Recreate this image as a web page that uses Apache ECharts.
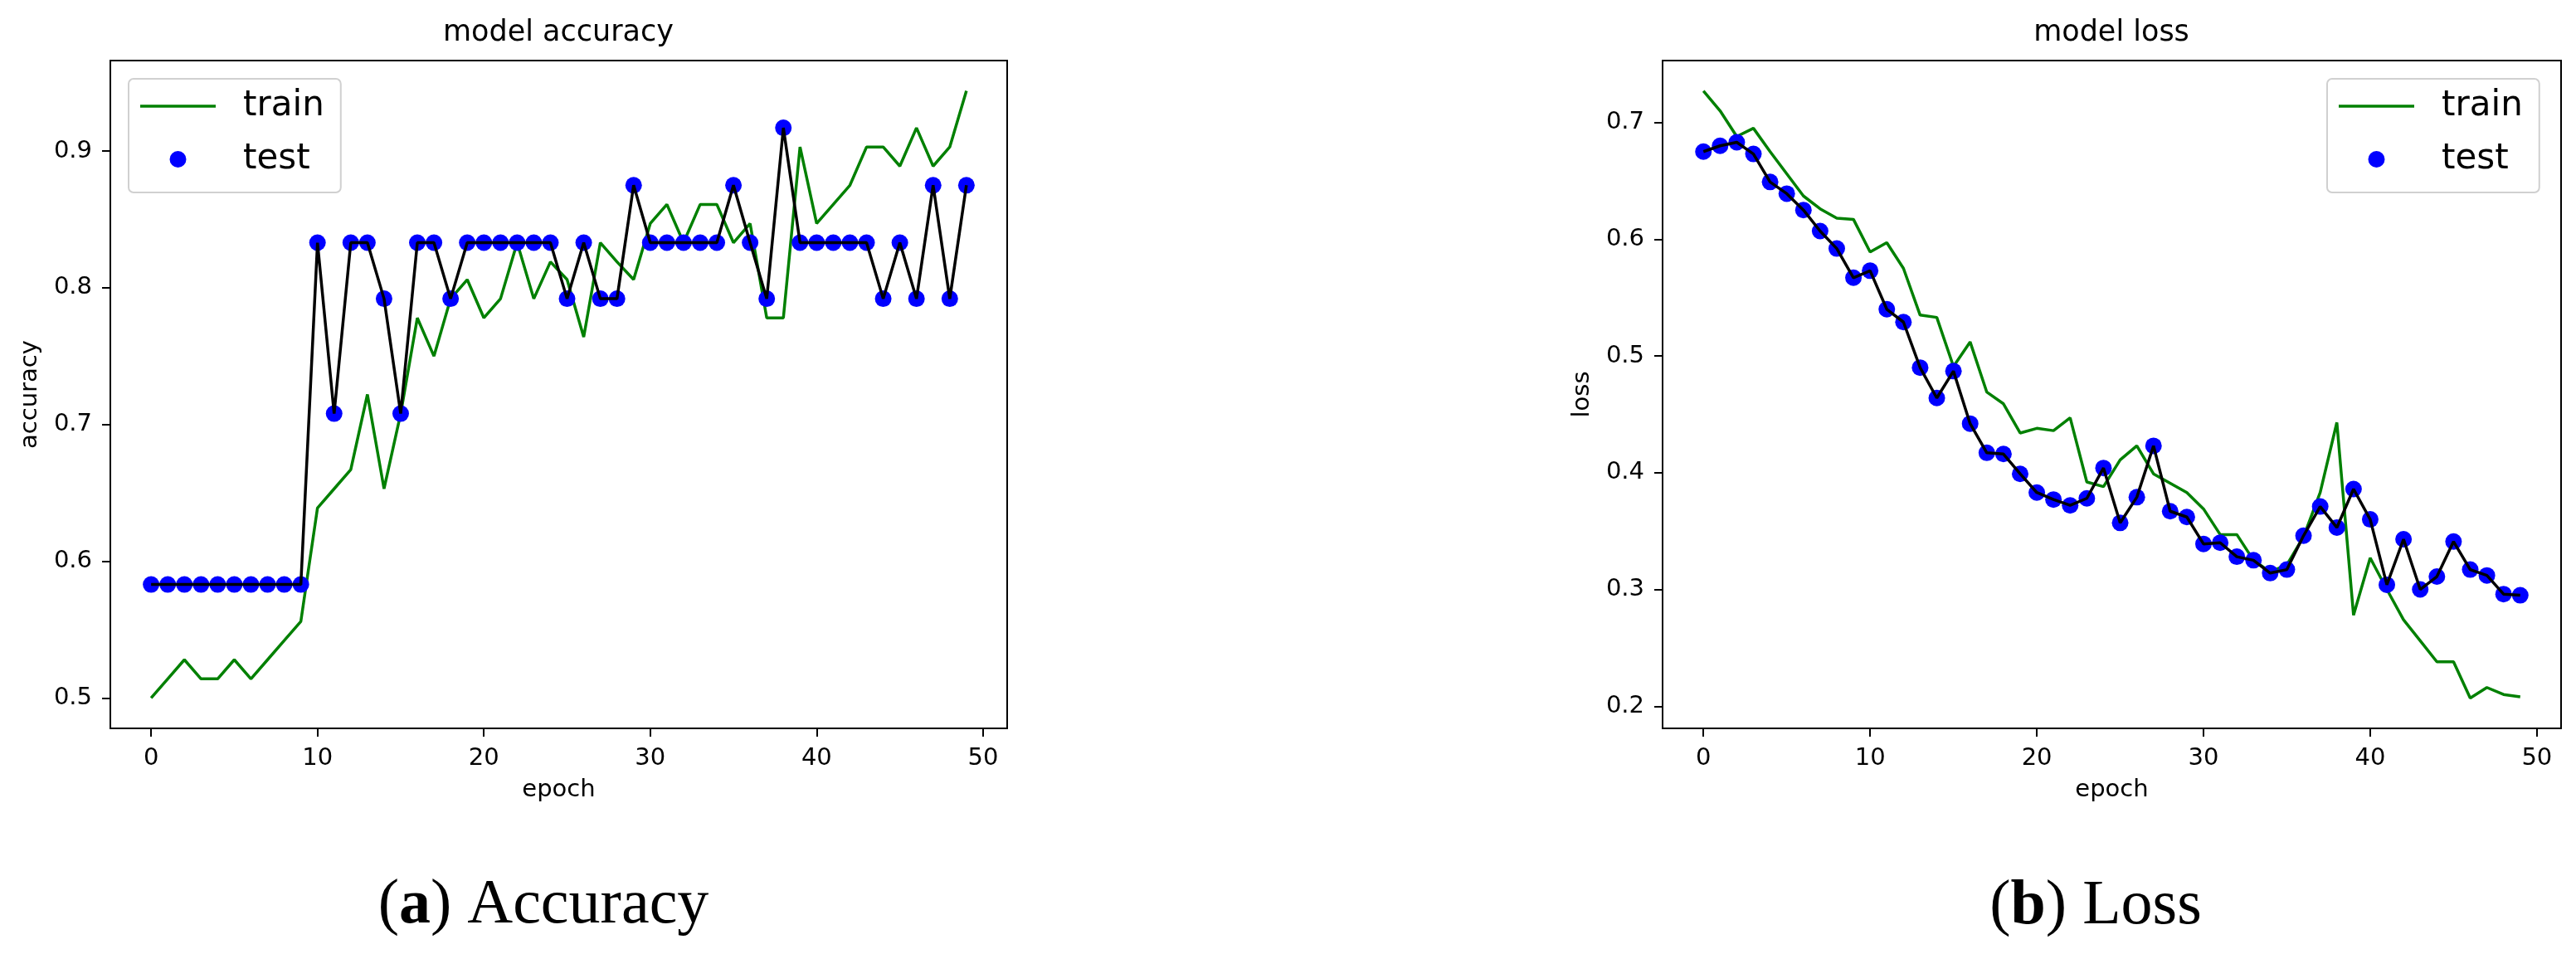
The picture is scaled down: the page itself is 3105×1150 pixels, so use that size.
<!DOCTYPE html>
<html>
<head>
<meta charset="utf-8">
<script src="https://cdn.jsdelivr.net/npm/echarts@6/dist/echarts.min.js"></script>
<style>
  html, body { margin: 0; padding: 0; background: #fff; }
  #chart { width: 3105px; height: 1150px; }
</style>
</head>
<body>
<div id="chart"></div>
<script>
// tick labels
var xTicks = [0, 10, 20, 30, 40, 50];
var accTicks = [0.5, 0.6, 0.7, 0.8, 0.9];
var lossTicks = [0.2, 0.3, 0.4, 0.5, 0.6, 0.7];

// accuracy per epoch
var accTrain = [0.500, 0.514, 0.528, 0.514, 0.514, 0.528, 0.514, 0.528, 0.542, 0.556,
                0.639, 0.653, 0.667, 0.722, 0.653, 0.708, 0.778, 0.750, 0.792, 0.806,
                0.778, 0.792, 0.833, 0.792, 0.819, 0.806, 0.764, 0.833, 0.819, 0.806,
                0.847, 0.861, 0.833, 0.861, 0.861, 0.833, 0.847, 0.778, 0.778, 0.903,
                0.847, 0.861, 0.875, 0.903, 0.903, 0.889, 0.917, 0.889, 0.903, 0.944];
var accTest = [0.583, 0.583, 0.583, 0.583, 0.583, 0.583, 0.583, 0.583, 0.583, 0.583,
               0.833, 0.708, 0.833, 0.833, 0.792, 0.708, 0.833, 0.833, 0.792, 0.833,
               0.833, 0.833, 0.833, 0.833, 0.833, 0.792, 0.833, 0.792, 0.792, 0.875,
               0.833, 0.833, 0.833, 0.833, 0.833, 0.875, 0.833, 0.792, 0.917, 0.833,
               0.833, 0.833, 0.833, 0.833, 0.792, 0.833, 0.792, 0.875, 0.792, 0.875];

// loss per epoch
var lossTrain = [0.727, 0.710, 0.688, 0.695, 0.675, 0.656, 0.637, 0.626, 0.618, 0.617,
                 0.589, 0.597, 0.575, 0.535, 0.533, 0.491, 0.512, 0.469, 0.459, 0.434,
                 0.438, 0.436, 0.447, 0.392, 0.388, 0.411, 0.423, 0.399, 0.391, 0.383,
                 0.369, 0.347, 0.347, 0.325, 0.315, 0.321, 0.345, 0.383, 0.443, 0.278,
                 0.327, 0.300, 0.274, 0.256, 0.238, 0.238, 0.207, 0.216, 0.210, 0.208];
var lossTest = [0.675, 0.680, 0.683, 0.673, 0.649, 0.639, 0.625, 0.607, 0.592, 0.567,
                0.573, 0.540, 0.529, 0.490, 0.464, 0.487, 0.442, 0.417, 0.416, 0.399,
                0.383, 0.377, 0.372, 0.378, 0.404, 0.357, 0.379, 0.423, 0.367, 0.362,
                0.339, 0.340, 0.328, 0.325, 0.314, 0.317, 0.346, 0.371, 0.353, 0.386,
                0.360, 0.304, 0.343, 0.300, 0.311, 0.341, 0.317, 0.312, 0.296, 0.295];

var epochs = accTrain.map(function (v, i) { return i; });

var font = 'DejaVu Sans';
var serif = 'Liberation Serif';
var green = '#008000', blue = '#0000ff';

function pairs(vals) {
  return vals.map(function (v, i) { return [epochs[i], v]; });
}
// matplotlib style 5% margins
function padRange(arrs) {
  var all = [].concat.apply([], arrs);
  var lo = Math.min.apply(null, all), hi = Math.max.apply(null, all);
  var p = (hi - lo) * 0.05;
  return [lo - p, hi + p];
}

var xr = padRange([epochs]);
var accR = padRange([accTrain, accTest]);
var lossR = padRange([lossTrain, lossTest]);

function xAxisFor(gi) {
  return {
    type: 'value', gridIndex: gi, min: xr[0], max: xr[1],
    name: 'epoch', nameLocation: 'middle', nameGap: 60,
    nameTextStyle: { fontSize: 29, color: '#000', fontFamily: font },
    splitLine: { show: false },
    axisLine: { show: true, onZero: false, lineStyle: { color: '#000', width: 2 } },
    axisTick: { show: true, customValues: xTicks, length: 10, lineStyle: { color: '#000', width: 2 } },
    axisLabel: { customValues: xTicks, fontSize: 29, color: '#000', margin: 22, fontFamily: font }
  };
}
function yAxisFor(gi, range, ticks, label) {
  return {
    type: 'value', gridIndex: gi, min: range[0], max: range[1],
    name: label, nameLocation: 'middle', nameGap: 82,
    nameTextStyle: { fontSize: 29, color: '#000', fontFamily: font },
    splitLine: { show: false },
    axisLine: { show: true, onZero: false, lineStyle: { color: '#000', width: 2 } },
    axisTick: { show: true, customValues: ticks, length: 10, lineStyle: { color: '#000', width: 2 } },
    axisLabel: {
      customValues: ticks, fontSize: 29, color: '#000', margin: 22, fontFamily: font,
      formatter: function (v) { return v.toFixed(1); }
    }
  };
}
function legendAt(left) {
  return {
    left: left, top: 95, orient: 'vertical', selectedMode: false,
    data: [{ name: 'train', icon: 'path://M0,0H91V3.5H0Z' }, { name: 'test', icon: 'circle' }],
    itemWidth: 91, itemHeight: 20, itemGap: 22,
    padding: [12, 20, 19, 14],
    backgroundColor: 'rgba(255,255,255,0.8)',
    borderColor: '#d0d0d0', borderWidth: 2, borderRadius: 6,
    textStyle: { fontSize: 42, lineHeight: 42, color: '#000', fontFamily: font, padding: [0, 0, 0, 28] }
  };
}
function seriesFor(gi, train, test) {
  return [
    {
      name: 'train', type: 'line', xAxisIndex: gi, yAxisIndex: gi, data: pairs(train),
      symbol: 'none', lineStyle: { color: green, width: 3.5 }, itemStyle: { color: green }, z: 2
    },
    {
      name: 'test', type: 'scatter', xAxisIndex: gi, yAxisIndex: gi, data: pairs(test),
      symbolSize: 20, itemStyle: { color: blue, opacity: 1 }, z: 3
    },
    {
      name: 'test line', type: 'line', xAxisIndex: gi, yAxisIndex: gi, data: pairs(test),
      symbol: 'none', lineStyle: { color: '#000', width: 3.5 }, z: 4
    }
  ];
}

var myChart = echarts.init(document.getElementById('chart'));
var option = {
  animation: false,
  backgroundColor: '#fff',
  grid: [
    { left: 133, top: 73, width: 1081, height: 805, show: true, borderColor: '#000', borderWidth: 2 },
    { left: 2004, top: 73, width: 1083, height: 805, show: true, borderColor: '#000', borderWidth: 2 }
  ],
  xAxis: [xAxisFor(0), xAxisFor(1)],
  yAxis: [yAxisFor(0, accR, accTicks, 'accuracy'), yAxisFor(1, lossR, lossTicks, 'loss')],
  legend: [legendAt(155), legendAt(2805)],
  graphic: [
    { type: 'text', x: 673, y: 40, style: { text: 'model accuracy', fontSize: 35, fontFamily: font, fill: '#000', align: 'center', verticalAlign: 'middle' } },
    { type: 'text', x: 2545, y: 40, style: { text: 'model loss', fontSize: 35, fontFamily: font, fill: '#000', align: 'center', verticalAlign: 'middle' } },
    { type: 'text', x: 655, y: 1092, style: {
        text: '({b|a}) Accuracy', fontSize: 76, fontFamily: serif, fill: '#000', align: 'center', verticalAlign: 'middle',
        rich: { b: { fontSize: 76, fontFamily: serif, fontWeight: 'bold', fill: '#000' } } } },
    { type: 'text', x: 2526, y: 1093, style: {
        text: '({b|b}) Loss', fontSize: 76, fontFamily: serif, fill: '#000', align: 'center', verticalAlign: 'middle',
        rich: { b: { fontSize: 76, fontFamily: serif, fontWeight: 'bold', fill: '#000' } } } }
  ],
  series: seriesFor(0, accTrain, accTest).concat(seriesFor(1, lossTrain, lossTest))
};
myChart.setOption(option);
</script>
</body>
</html>
